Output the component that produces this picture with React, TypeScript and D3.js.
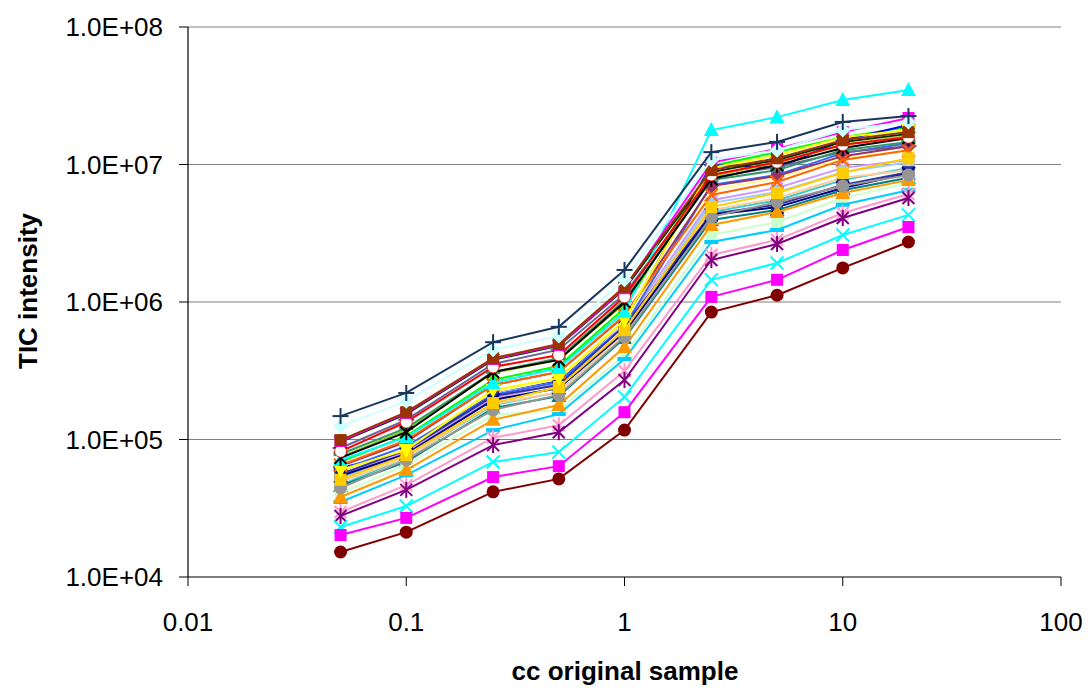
import React from 'react';
import * as d3 from 'd3';

// ---------- data ----------
const xValues = [0.05, 0.1, 0.25, 0.5, 1, 2.5, 5, 10, 20];
const xTickValues = [0.01, 0.1, 1, 10, 100];
const xTickLabels = ['0.01', '0.1', '1', '10', '100'];
const yTickValues = [1e4, 1e5, 1e6, 1e7, 1e8];
const yTickLabels = ['1.0E+04', '1.0E+05', '1.0E+06', '1.0E+07', '1.0E+08'];

const seriesGreen = [6.87e4, 1.06e5, 2.71e5, 3.42e5, 9.0e5, 9.75e6, 1.23e7, 1.58e7, 1.87e7];
const seriesBlue = [6.2e4, 8.1e4, 2.21e5, 2.71e5, 7.2e5, 9.9e6, 9.45e6, 1.5e7, 1.94e7];
const seriesLavender = [5.5e4, 8.1e4, 2.0e5, 2.53e5, 6.8e5, 5.5e6, 6.75e6, 9.45e6, 1.08e7];
const seriesTurquoise = [4.66e4, 7.35e4, 1.78e5, 2.21e5, 5.95e5, 4.51e6, 5.5e6, 7.7e6, 9.45e6];
const seriesOlive = [7.46e4, 1.17e5, 3.05e5, 3.79e5, 9.8e5, 8.25e6, 1.03e7, 1.39e7, 1.61e7];
const seriesLightYellow = [5.8e4, 8.95e4, 2.21e5, 2.75e5, 7.2e5, 6.5e6, 8.0e6, 1.11e7, 1.27e7];
const seriesPaleBlue = [5.24e4, 7.7e4, 1.94e5, 2.37e5, 6.25e5, 5.24e6, 6.3e6, 8.8e6, 1.04e7];
const seriesPeach = [4.91e4, 7.35e4, 1.81e5, 2.21e5, 5.85e5, 4.66e6, 5.7e6, 8.0e6, 9.1e6];
const seriesRoyal = [6.0e4, 8.95e4, 2.11e5, 2.62e5, 6.7e5, 7.1e6, 8.4e6, 1.21e7, 1.43e7];
const seriesSlate = [8.67e4, 1.39e5, 3.54e5, 4.5e5, 1.14e6, 8.0e6, 9.6e6, 1.23e7, 1.36e7];
const seriesSeaGreen = [7.85e4, 1.21e5, 3.1e5, 3.9e5, 1.03e6, 7.7e6, 9.1e6, 1.27e7, 1.46e7];
const seriesPlum = [6.4e4, 9.6e4, 2.49e5, 3.1e5, 7.9e5, 6.97e6, 8.25e6, 1.15e7, 1.36e7];
const seriesIndigo = [5.6e4, 8.4e4, 2.07e5, 2.49e5, 6.7e5, 4.37e6, 5.1e6, 7.1e6, 8.8e6];
const seriesTeal = [4.59e4, 6.87e4, 1.69e5, 2.07e5, 5.47e5, 3.95e6, 4.66e6, 6.5e6, 8.0e6];
const seriesNavy = [5.43e4, 7.85e4, 1.94e5, 2.37e5, 6.05e5, 4.3e6, 4.9e6, 6.75e6, 8.6e6];
const seriesDarkGreen = [9.6e4, 1.53e5, 3.8e5, 4.8e5, 1.24e6, 8.8e6, 1.08e7, 1.46e7, 1.67e7];
const seriesMagentaTop = [9.75e4, 1.56e5, 3.85e5, 4.87e5, 1.26e6, 1.03e7, 1.3e7, 1.72e7, 2.18e7];
const seriesBlack = [7.35e4, 1.13e5, 3.1e5, 3.79e5, 1.0e6, 7.85e6, 9.9e6, 1.32e7, 1.56e7];
const seriesOrangeX = [6.5e4, 9.9e4, 2.49e5, 3.1e5, 8.0e5, 6.0e6, 7.46e6, 1.08e7, 1.27e7];
const seriesMint = [4.08e4, 6.5e4, 1.51e5, 1.64e5, 4.12e5, 3.07e6, 3.82e6, 5.7e6, 7.35e6];
const seriesSky = [3.51e4, 5.5e4, 1.17e5, 1.53e5, 3.85e5, 2.73e6, 3.34e6, 5.1e6, 6.5e6];
const seriesOrange = [3.82e4, 6.0e4, 1.39e5, 1.78e5, 4.7e5, 3.63e6, 4.51e6, 6.2e6, 7.7e6];
const seriesGrey = [4.44e4, 7.1e4, 1.64e5, 2.11e5, 5.6e5, 4.16e6, 5.33e6, 6.97e6, 8.4e6];
const seriesGold = [5.1e4, 7.7e4, 1.84e5, 2.41e5, 6.25e5, 4.9e6, 6.2e6, 8.7e6, 1.11e7];
const seriesYellow = [6.0e4, 8.4e4, 2.29e5, 2.8e5, 7.4e5, 9.45e6, 1.17e7, 1.58e7, 1.78e7];
const seriesCyanTri = [7.1e4, 1.04e5, 2.58e5, 3.31e5, 8.45e5, 1.78e7, 2.21e7, 2.94e7, 3.48e7];
const seriesRed = [8.2e4, 1.34e5, 3.37e5, 4.12e5, 1.09e6, 8.4e6, 1.04e7, 1.39e7, 1.58e7];
const seriesBrown = [9.9e4, 1.58e5, 3.9e5, 4.95e5, 1.29e6, 9.1e6, 1.11e7, 1.5e7, 1.72e7];
const seriesIce = [1.25e5, 1.9e5, 4.5e5, 5.66e5, 1.45e6, 1.08e7, 1.27e7, 1.78e7, 2.04e7];
const seriesNavyPlus = [1.48e5, 2.18e5, 5.1e5, 6.6e5, 1.71e6, 1.23e7, 1.46e7, 2.04e7, 2.25e7];
const seriesPink = [2.97e4, 4.66e4, 1.03e5, 1.27e5, 3.15e5, 2.2e6, 2.83e6, 4.44e6, 6.1e6];
const seriesPurple = [2.78e4, 4.3e4, 9.1e4, 1.13e5, 2.71e5, 2.02e6, 2.64e6, 4.08e6, 5.7e6];
const seriesCyanX = [2.31e4, 3.28e4, 6.87e4, 8.1e4, 2.04e5, 1.45e6, 1.92e6, 3.07e6, 4.3e6];
const seriesMagenta = [2.02e4, 2.69e4, 5.33e4, 6.4e4, 1.58e5, 1.09e6, 1.45e6, 2.39e6, 3.51e6];
const seriesMaroon = [1.52e4, 2.12e4, 4.16e4, 5.17e4, 1.17e5, 8.45e5, 1.12e6, 1.77e6, 2.73e6];

type Marker = 'square' | 'circle' | 'diamond' | 'triangle' | 'triangleDown' | 'x' | 'star' | 'plus' | 'dash' | 'whiteCircle';

const seriesList: { values: number[]; color: string; marker: Marker }[] = [
  { values: seriesGreen, color: '#00FF00', marker: 'triangle' },
  { values: seriesBlue, color: '#0000FF', marker: 'diamond' },
  { values: seriesLavender, color: '#CC99FF', marker: 'square' },
  { values: seriesTurquoise, color: '#33CCCC', marker: 'circle' },
  { values: seriesOlive, color: '#99CC00', marker: 'x' },
  { values: seriesLightYellow, color: '#FFFF99', marker: 'diamond' },
  { values: seriesPaleBlue, color: '#99CCFF', marker: 'square' },
  { values: seriesPeach, color: '#FFCC99', marker: 'triangle' },
  { values: seriesRoyal, color: '#3366FF', marker: 'circle' },
  { values: seriesSlate, color: '#666699', marker: 'plus' },
  { values: seriesSeaGreen, color: '#339966', marker: 'dash' },
  { values: seriesPlum, color: '#993366', marker: 'diamond' },
  { values: seriesIndigo, color: '#333399', marker: 'square' },
  { values: seriesTeal, color: '#008080', marker: 'triangle' },
  { values: seriesNavy, color: '#000080', marker: 'x' },
  { values: seriesDarkGreen, color: '#003300', marker: 'star' },
  { values: seriesOrangeX, color: '#FF6600', marker: 'x' },
  { values: seriesMint, color: '#CCFFCC', marker: 'square' },
  { values: seriesSky, color: '#00CCFF', marker: 'dash' },
  { values: seriesOrange, color: '#FF9900', marker: 'triangle' },
  { values: seriesGrey, color: '#969696', marker: 'circle' },
  { values: seriesGold, color: '#FFCC00', marker: 'square' },
  { values: seriesYellow, color: '#FFFF00', marker: 'triangleDown' },
  { values: seriesCyanTri, color: '#00FFFF', marker: 'triangle' },
  { values: seriesBlack, color: '#000000', marker: 'star' },
  { values: seriesRed, color: '#FF0000', marker: 'whiteCircle' },
  { values: seriesMagentaTop, color: '#FF00FF', marker: 'square' },
  { values: seriesBrown, color: '#993300', marker: 'square' },
  { values: seriesIce, color: '#CCFFFF', marker: 'diamond' },
  { values: seriesNavyPlus, color: '#17375E', marker: 'plus' },
  { values: seriesPink, color: '#FF99CC', marker: 'star' },
  { values: seriesPurple, color: '#800080', marker: 'star' },
  { values: seriesCyanX, color: '#00FFFF', marker: 'x' },
  { values: seriesMagenta, color: '#FF00FF', marker: 'square' },
  { values: seriesMaroon, color: '#800000', marker: 'circle' },
];

// ---------- layout ----------
const W = 1090;
const H = 690;
const left = 188;
const right = 1061;
const top = 27;
const bottom = 577;
const FONT = '"Liberation Sans", Arial, Helvetica, sans-serif';

function drawMarker(type: Marker, cx: number, cy: number, color: string, key: string) {
  switch (type) {
    case 'square':
      return <rect key={key} x={cx - 6} y={cy - 6} width={12} height={12} fill={color} />;
    case 'circle':
      return <circle key={key} cx={cx} cy={cy} r={6.5} fill={color} />;
    case 'whiteCircle':
      return <circle key={key} cx={cx} cy={cy} r={6} fill="#FFFFFF" stroke={color} strokeWidth={0.8} />;
    case 'diamond':
      return <polygon key={key} points={`${cx},${cy - 7.5} ${cx + 7.5},${cy} ${cx},${cy + 7.5} ${cx - 7.5},${cy}`} fill={color} />;
    case 'triangle':
      return <polygon key={key} points={`${cx},${cy - 8} ${cx + 7.5},${cy + 6} ${cx - 7.5},${cy + 6}`} fill={color} />;
    case 'triangleDown':
      return <polygon key={key} points={`${cx},${cy + 8} ${cx + 7.5},${cy - 6} ${cx - 7.5},${cy - 6}`} fill={color} />;
    case 'x':
      return (
        <g key={key} stroke={color} strokeWidth={2}>
          <line x1={cx - 6.5} y1={cy - 6.5} x2={cx + 6.5} y2={cy + 6.5} />
          <line x1={cx - 6.5} y1={cy + 6.5} x2={cx + 6.5} y2={cy - 6.5} />
        </g>
      );
    case 'star':
      return (
        <g key={key} stroke={color} strokeWidth={2}>
          <line x1={cx - 6} y1={cy - 6} x2={cx + 6} y2={cy + 6} />
          <line x1={cx - 6} y1={cy + 6} x2={cx + 6} y2={cy - 6} />
          <line x1={cx} y1={cy - 8} x2={cx} y2={cy + 8} />
        </g>
      );
    case 'plus':
      return (
        <g key={key} stroke={color} strokeWidth={2}>
          <line x1={cx - 8} y1={cy} x2={cx + 8} y2={cy} />
          <line x1={cx} y1={cy - 8} x2={cx} y2={cy + 8} />
        </g>
      );
    case 'dash':
      return <rect key={key} x={cx - 7} y={cy - 2} width={14} height={4} fill={color} />;
  }
  return null;
}

export default function App() {
  const x = d3.scaleLog().domain([0.01, 100]).range([left, right]);
  const y = d3.scaleLog().domain([1e4, 1e8]).range([bottom, top]);
  const line = d3
    .line<number>()
    .x((_, i) => x(xValues[i]))
    .y((d) => y(d));

  return (
    <svg width={W} height={H} style={{ position: 'absolute', left: 0, top: 0, background: '#fff' }} fontFamily={FONT}>
      <rect x={0} y={0} width={W} height={H} fill="#fff" />
      {/* gridlines */}
      {yTickValues.slice(1).map((v) => (
        <line key={'g' + v} x1={left} x2={right} y1={y(v)} y2={y(v)} stroke="#808080" strokeWidth={1.2} />
      ))}
      {/* axes */}
      <line x1={left} x2={left} y1={top} y2={bottom} stroke="#000" strokeWidth={1.2} />
      <line x1={left} x2={right} y1={bottom} y2={bottom} stroke="#000" strokeWidth={1.2} />
      {yTickValues.map((v, i) => (
        <g key={'yt' + v}>
          <line x1={left - 9} x2={left} y1={y(v)} y2={y(v)} stroke="#000" strokeWidth={1} />
          <text x={163} y={y(v)} dy="0.36em" textAnchor="end" fontSize={26} fill="#000">
            {yTickLabels[i]}
          </text>
        </g>
      ))}
      {xTickValues.map((v, i) => (
        <g key={'xt' + v}>
          <line x1={x(v)} x2={x(v)} y1={bottom} y2={bottom + 9} stroke="#000" strokeWidth={1} />
          <text x={x(v)} y={631} textAnchor="middle" fontSize={26} fill="#000">
            {xTickLabels[i]}
          </text>
        </g>
      ))}
      {/* series lines */}
      {seriesList.map((s, si) => (
        <g key={'s' + si}>
          <path d={line(s.values) || ''} fill="none" stroke={s.color} strokeWidth={2} />
          {s.values.map((v, i) => drawMarker(s.marker, x(xValues[i]), y(v), s.color, `m${si}-${i}`))}
        </g>
      ))}
      {/* axis titles */}
      <text x={625} y={680} textAnchor="middle" fontSize={26} fontWeight="bold" fill="#000">
        cc original sample
      </text>
      <text transform="translate(37,291) rotate(-90)" textAnchor="middle" fontSize={26} fontWeight="bold" fill="#000">
        TIC intensity
      </text>
    </svg>
  );
}
